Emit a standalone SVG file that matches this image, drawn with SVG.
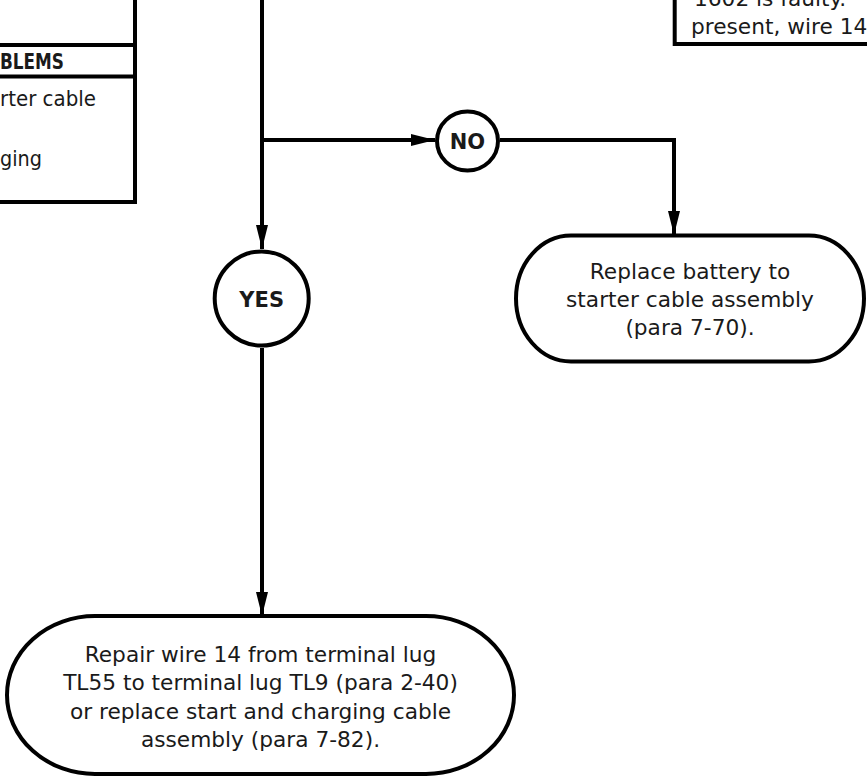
<svg xmlns="http://www.w3.org/2000/svg" width="867" height="782" viewBox="0 0 867 782">
<style>
  .ln{fill:none;stroke:#000;stroke-width:4}
  .box{fill:#fff;stroke:#000;stroke-width:4}
  .t{font-family:"DejaVu Sans",Verdana,sans-serif;font-size:21.7px;fill:#1a1a1a}
  .c{text-anchor:middle}
  .b{font-family:"DejaVu Sans",Verdana,sans-serif;font-weight:bold;font-size:21px;fill:#1a1a1a;text-anchor:middle}
</style>
<defs>
  <marker id="arr" markerUnits="userSpaceOnUse" markerWidth="26" markerHeight="14" refX="24" refY="6" orient="auto">
    <path d="M0,0 L24,6 L0,12 Z" fill="#000"/>
  </marker>
</defs>
<rect width="867" height="782" fill="#fff"/>

<g id="left-table">
  <path class="ln" d="M0,45 H135 M0,76.5 H135 M135,0 V202 H0"/>
  <text x="0" y="69" textLength="64" lengthAdjust="spacingAndGlyphs" style="font-family:'DejaVu Sans',Verdana,sans-serif;font-weight:bold;font-size:21px;fill:#1a1a1a">BLEMS</text>
  <text class="t" x="0" y="106" textLength="96" lengthAdjust="spacingAndGlyphs">rter cable</text>
  <text class="t" x="0" y="165.5" textLength="42" lengthAdjust="spacingAndGlyphs">ging</text>
</g>

<g id="top-right-box">
  <path class="ln" d="M674.7,0 V44 H867"/>
  <text class="t" x="694" y="6">1602 is faulty.</text>
  <text class="t" x="691" y="34">present, wire 14</text>
</g>

<g id="connectors">
  <path class="ln" d="M262,0 V249" marker-end="url(#arr)"/>
  <path class="ln" d="M262,140 H435" marker-end="url(#arr)"/>
  <path class="ln" d="M500,140 H674 V235" marker-end="url(#arr)"/>
  <path class="ln" d="M262,348 V616" marker-end="url(#arr)"/>
</g>

<g id="no">
  <ellipse class="box" cx="467.5" cy="141" rx="30.5" ry="29.5"/>
  <text class="b" x="467.5" y="148.5">NO</text>
</g>

<g id="yes">
  <circle class="box" cx="261.7" cy="298.5" r="47"/>
  <text class="b" x="261.7" y="306.5">YES</text>
</g>

<g id="replace-battery">
  <rect class="box" x="516" y="235.5" width="348" height="126" rx="55" ry="63"/>
  <text class="t c" x="690" y="279.3">Replace battery to</text>
  <text class="t c" x="690" y="307.3">starter cable assembly</text>
  <text class="t c" x="690" y="335.3">(para 7-70).</text>
</g>

<g id="repair-wire">
  <rect class="box" x="7" y="616" width="507" height="158" rx="88" ry="79"/>
  <text class="t c" x="260.5" y="662">Repair wire 14 from terminal lug</text>
  <text class="t c" x="260.5" y="690">TL55 to terminal lug TL9 (para 2-40)</text>
  <text class="t c" x="260.5" y="718.5">or replace start and charging cable</text>
  <text class="t c" x="260.5" y="747">assembly (para 7-82).</text>
</g>
</svg>
